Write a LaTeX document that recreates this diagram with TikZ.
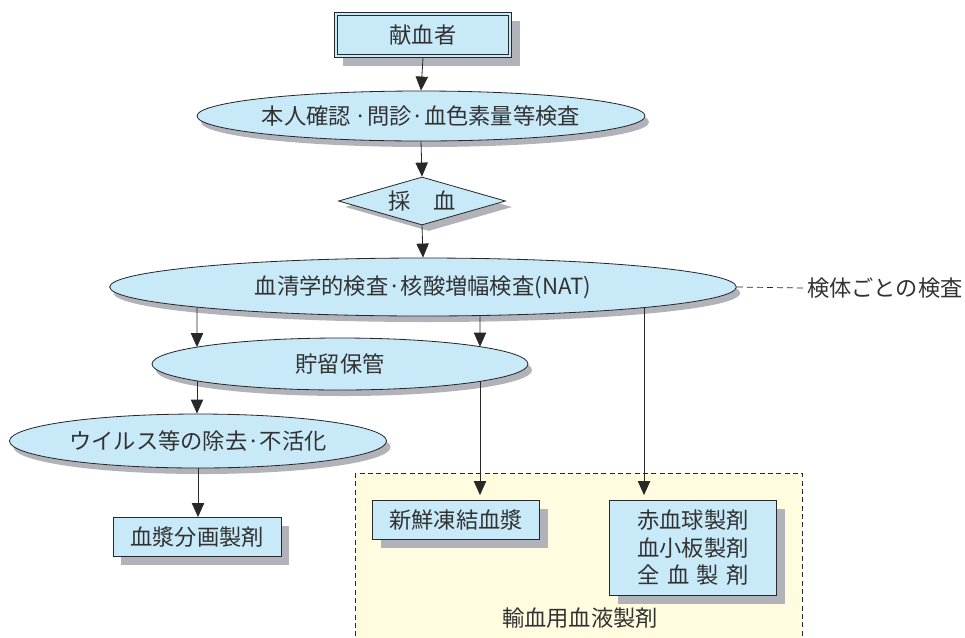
\documentclass[tikz,border=0pt]{standalone}
\usepackage{fontspec}
\setmainfont{Noto Sans CJK JP}
\usetikzlibrary{shapes.geometric,shadows,arrows.meta,intersections,calc}
\definecolor{boxblue}{RGB}{200,233,248}
\definecolor{shadowgray}{RGB}{178,178,186}
\definecolor{regionyellow}{RGB}{255,252,224}
\definecolor{linegray}{RGB}{40,40,40}
\definecolor{txtgray}{RGB}{50,50,50}

\begin{document}
\begin{tikzpicture}[x=0.03cm, y=-0.03cm,
    every node/.style={font=\fontsize{19}{23.5}\selectfont, text=txtgray},
    flowbox/.style={draw=linegray, line width=0.7pt, fill=boxblue, rectangle, inner sep=0pt,
        drop shadow={shadow xshift=0.24cm, shadow yshift=-0.24cm, fill=shadowgray, opacity=1}},
    oval/.style={draw=linegray, line width=0.7pt, fill=boxblue, ellipse, inner sep=0pt,
        drop shadow={shadow xshift=0.12cm, shadow yshift=-0.18cm, fill=shadowgray, opacity=1}},
    arr/.style={-{Triangle[length=0.42cm, width=0.37cm]}, linegray, line width=0.7pt}]
    \useasboundingbox (0,0) rectangle (965,637);

    % Transfusion products area
    \draw[linegray, line width=0.6pt, dash pattern=on 0.15cm off 0.1cm, fill=regionyellow] (355,473) rectangle (802,660);
    \node (yuketsu) at (580,618) {輸血用血液製剤};

    % Flow nodes
    \node[flowbox, minimum width=5.31cm, minimum height=1.35cm] (donor) at (423,35) {献血者};
    \draw[linegray, line width=0.7pt] ($(donor.north west)+(3.5,3.5)$) rectangle ($(donor.south east)+(-3.5,-3.5)$);
    \node[oval, minimum width=13.44cm, minimum height=1.5cm, name path=honninP] (honnin) at (421,116) {\makebox[0pt]{本人確認\,·問診·血色素量等検査}};
    \node[diamond, draw=linegray, line width=0.7pt, fill=boxblue, aspect=3.5, inner sep=0pt, minimum width=5.01cm, minimum height=1.44cm,
        drop shadow={shadow xshift=0.2cm, shadow yshift=-0.18cm, fill=shadowgray, opacity=1}] (saiketsu) at (422,201) {採　血};
    \node[oval, minimum width=18.8cm, minimum height=1.74cm, name path=kensaP] (kensa) at (423,287) {血清学的検査·核酸増幅検査(NAT)};
    \node[oval, minimum width=11.28cm, minimum height=1.56cm, name path=chozoP] (chozo) at (340,364) {貯留保管};
    \node[oval, minimum width=11.31cm, minimum height=1.62cm] (virus) at (198,441) {\makebox[0pt]{ウイルス等の除去·不活化}};

    % Products
    \node[flowbox, minimum width=5.04cm, minimum height=1.17cm] (bunkaku) at (197,537) {血漿分画製剤};
    \node[flowbox, minimum width=5.01cm, minimum height=1.17cm] (shinsen) at (456,520) {新鮮凍結血漿};
    \node[flowbox, minimum width=5.01cm, minimum height=2.85cm, align=center] (seizai) at (693,548)
        {赤血球製剤\\血小板製剤\\\hbox to 5em{全\hfill 血\hfill 製\hfill 剤}};

    % Side note
    \node[anchor=west] (kentai) at (803,288) {検体ごとの検査};
    \draw[linegray, line width=0.6pt, dash pattern=on 0.18cm off 0.12cm] (kensa.east) -- (kentai.west);

    % Helper columns for the branches
    \path[name path=colA] (197,295) -- (197,358);
    \path[name path=colAA] (197,370) -- (197,405);
    \path[name path=colB] (480,295) -- (480,358);
    \path[name path=colBB] (480,370) -- (480,405);
    \path[name path=colC] (644,295) -- (644,340);
    \path[name intersections={of=colA and kensaP, by=a1}];
    \path[name intersections={of=colA and chozoP, by=a2}];
    \path[name intersections={of=colAA and chozoP, by=a3}];
    \path[name intersections={of=colB and kensaP, by=b1}];
    \path[name intersections={of=colB and chozoP, by=b2}];
    \path[name intersections={of=colBB and chozoP, by=b3}];
    \path[name intersections={of=colC and kensaP, by=c1}];

    % Arrows
    \draw[arr] (donor.south) -- (honnin.north);
    \draw[arr] (honnin.south) -- (saiketsu.north);
    \draw[arr] (saiketsu.south) -- (kensa.north);
    \draw[arr] (a1) -- (a2);
    \draw[arr] (b1) -- (b2);
    \draw[arr] (a3) -- (a3 |- virus.north);
    \draw[arr] (virus.south) -- (virus.south |- bunkaku.north);
    \draw[arr, shorten >=0.15cm] (b3) -- (b3 |- shinsen.north);
    \draw[arr, shorten >=0.15cm] (c1) -- (c1 |- seizai.north);
\end{tikzpicture}
\end{document}
